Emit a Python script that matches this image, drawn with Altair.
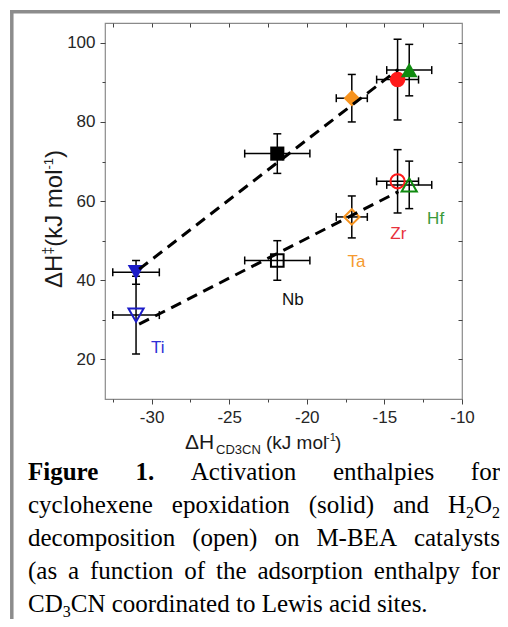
import altair as alt
import pandas as pd

# ---------------- data ----------------
metals = ["Ti", "Nb", "Ta", "Zr", "Hf"]
metal_colors = ["#1c1cc8", "#000000", "#f7931e", "#ff1a1a", "#0f8a0f"]
label_colors = ["#2f2fd6", "#111111", "#f59a30", "#e8323c", "#3a9a3a"]
shapes = ["triangle-down", "square", "diamond", "circle", "triangle-up"]
solid_sizes = [280, 200, 270, 240, 280]
open_sizes = [230, 160, 240, 200, 230]

dh_cd3cn = [-31.0, -21.9, -17.1, -14.15, -13.4]
dh_cd3cn_err = [1.5, 2.1, 1.0, 1.35, 1.45]
dh_epox = [42.0, 72.0, 86.0, 90.7, 93.1]          # solid: cyclohexene epoxidation
dh_epox_err = [3.0, 5.0, 6.0, 10.2, 6.5]
dh_h2o2 = [31.2, 45.0, 56.0, 65.0, 64.1]          # open: H2O2 decomposition
dh_h2o2_err = [9.8, 5.0, 5.3, 8.0, 6.0]

label_x = [-29.6, -20.9, -16.8, -14.1, -11.7]
label_y = [22.8, 35.0, 44.7, 51.6, 55.4]

fit_epox_x = [-30.8, -14.1]
fit_epox_y = [42.8, 93.3]
fit_h2o2_x = [-30.8, -14.1]
fit_h2o2_y = [28.9, 62.4]

x_major = [-30, -25, -20, -15, -10]
x_minor = [-32.5, -27.5, -22.5, -17.5, -12.5]
x_top = [-32.5, -30, -27.5, -25, -22.5, -20, -17.5, -15, -12.5]
y_major = [20, 40, 60, 80, 100]
y_minor = [30, 50, 70, 90]
y_right = [20, 30, 40, 50, 60, 70, 80, 90, 100]

caption_lines = [
    "**Figure** **1.** Activation enthalpies for",
    "cyclohexene epoxidation (solid) and H_2O_2",
    "decomposition (open) on M-BEA catalysts",
    "(as a function of the adsorption enthalpy for",
    "CD_3CN coordinated to Lewis acid sites.",
]

# ---------------- layout ----------------
W, H = 357, 376
X0, Y0 = 105, 23          # page position of plot area
SVG_W, SVG_H = 492, 611
PAD = {"left": X0 - 8, "top": Y0 - 8, "right": SVG_W - (X0 - 8) - W,
       "bottom": SVG_H - (Y0 - 8) - H}

xs = alt.Scale(domain=[-33, -10], nice=False, zero=False)
ys = alt.Scale(domain=[10, 105], nice=False, zero=False)


def X(f):
    return alt.X(f, type="quantitative", scale=xs, axis=None)


def Y(f):
    return alt.Y(f, type="quantitative", scale=ys, axis=None)


rows = []
for i, m in enumerate(metals):
    for series, yv, ye, sz in (("solid", dh_epox, dh_epox_err, solid_sizes),
                               ("open", dh_h2o2, dh_h2o2_err, open_sizes)):
        rows.append(dict(metal=m, series=series, x=dh_cd3cn[i],
                         xlo=dh_cd3cn[i] - dh_cd3cn_err[i],
                         xhi=dh_cd3cn[i] + dh_cd3cn_err[i],
                         y=yv[i], ylo=yv[i] - ye[i], yhi=yv[i] + ye[i],
                         shape=shapes[i], color=metal_colors[i], msize=sz[i]))
pts = pd.DataFrame(rows)

hbar = alt.Chart(pts).mark_rule(color="black", strokeWidth=1.5).encode(
    x=X("xlo"), x2="xhi", y=Y("y"))
vbar = alt.Chart(pts).mark_rule(color="black", strokeWidth=1.5).encode(
    x=X("x"), y=Y("ylo"), y2="yhi")
hcap = alt.Chart(pts).transform_fold(["xlo", "xhi"], as_=["k", "xc"]).mark_tick(
    orient="vertical", size=8, thickness=1.5, color="black", opacity=1).encode(
    x=X("xc"), y=Y("y"))
vcap = alt.Chart(pts).transform_fold(["ylo", "yhi"], as_=["k", "yc"]).mark_tick(
    orient="horizontal", size=8, thickness=1.5, color="black", opacity=1).encode(
    x=X("x"), y=Y("yc"))

solid = alt.Chart(pts[pts.series == "solid"]).mark_point(
    filled=True, opacity=1, strokeWidth=0).encode(
    x=X("x"), y=Y("y"),
    shape=alt.Shape("shape:N", scale=None),
    color=alt.Color("color:N", scale=None),
    size=alt.Size("msize:Q", scale=None))
opn = alt.Chart(pts[pts.series == "open"]).mark_point(
    filled=False, opacity=1, strokeWidth=2).encode(
    x=X("x"), y=Y("y"),
    shape=alt.Shape("shape:N", scale=None),
    color=alt.Color("color:N", scale=None),
    size=alt.Size("msize:Q", scale=None))

fit = pd.DataFrame({
    "series": ["solid"] * 2 + ["open"] * 2,
    "x": fit_epox_x + fit_h2o2_x,
    "y": fit_epox_y + fit_h2o2_y,
})
fitlines = alt.Chart(fit).mark_line(
    strokeDash=[11, 7], strokeWidth=3, color="black").encode(
    x=X("x"), y=Y("y"), detail="series:N")

labels = alt.Chart(pd.DataFrame({"t": metals, "x": label_x, "y": label_y,
                                 "c": label_colors})).mark_text(
    font="Liberation Sans", fontSize=17, align="center", baseline="middle").encode(
    x=X("x"), y=Y("y"), text="t:N", color=alt.Color("c:N", scale=None))

# ---------------- axes (ticks only; frame by view stroke) ----------------
adf = pd.DataFrame({"x": [-20.0], "y": [50.0]})
lab_expr = "datum.value < 0 ? '-' + (-datum.value) : '' + datum.value"
common = dict(domain=False, grid=False, title=None, tickColor="#444",
              tickWidth=1)
ax_main = alt.Chart(adf).mark_point(opacity=0).encode(
    x=alt.X("x:Q", scale=xs, axis=alt.Axis(
        orient="bottom", values=x_major, tickSize=5, labelPadding=5,
        labelFlush=False, labelExpr=lab_expr, labelFont="Liberation Sans",
        labelFontSize=17, labelColor="#262626", **common)),
    y=alt.Y("y:Q", scale=ys, axis=alt.Axis(
        orient="left", values=y_major, tickSize=5, labelPadding=5,
        labelFont="Liberation Sans", labelFontSize=17, labelColor="#262626",
        **common)))
ax_minor = alt.Chart(adf).mark_point(opacity=0).encode(
    x=alt.X("x:Q", scale=xs, axis=alt.Axis(
        orient="bottom", values=x_minor, tickSize=3, labels=False, **common)),
    y=alt.Y("y:Q", scale=ys, axis=alt.Axis(
        orient="left", values=y_minor, tickSize=3, labels=False, **common)))
ax_in = alt.Chart(adf).mark_point(opacity=0).encode(
    x=alt.X("x:Q", scale=xs, axis=alt.Axis(
        orient="bottom", offset=-H, values=x_top, tickSize=4, labels=False,
        **common)),
    y=alt.Y("y:Q", scale=ys, axis=alt.Axis(
        orient="left", offset=-W, values=y_right, tickSize=4, labels=False,
        **common)))

# ---------------- axis titles (text pieces, page coordinates) ----------------
xt = [  # text, page x, page baseline y, size
    ("ΔH", 185, 449, 21),
    ("CD3CN", 216, 454, 13),
    ("(kJ mol", 266, 449, 19),
    ("-1", 326, 441, 11),
    (")", 335, 449, 19),
]
yt = [  # text, page baseline x, page start y, size
    ("ΔH", 62, 288, 24),
    ("‡", 53, 254.6, 14),
    ("(kJ mol", 62, 246.8, 24),
    ("-1", 53, 169.5, 13),
    (")", 62, 157.9, 24),
]
xtitle = alt.Chart(pd.DataFrame(
    [dict(t=t, px=x - X0, py=y - Y0, s=s) for t, x, y, s in xt])).mark_text(
    font="Liberation Sans", align="left", baseline="alphabetic",
    color="#1a1a1a").encode(
    x=alt.X("px:Q", scale=None, axis=None), y=alt.Y("py:Q", scale=None, axis=None),
    text="t:N", size=alt.Size("s:Q", scale=None))
ytitle = alt.Chart(pd.DataFrame(
    [dict(t=t, px=x - X0, py=y - Y0, s=s) for t, x, y, s in yt])).mark_text(
    font="Liberation Sans", align="left", baseline="alphabetic", angle=270,
    color="#1a1a1a").encode(
    x=alt.X("px:Q", scale=None, axis=None), y=alt.Y("py:Q", scale=None, axis=None),
    text="t:N", size=alt.Size("s:Q", scale=None))

# ---------------- caption (justified, Times metrics) ----------------
TNR = {" ": 250, "(": 333, ")": 333, ".": 250, "-": 333}
TNR.update(dict(zip("abcdefghijklmnopqrstuvwxyz",
                    [444, 500, 444, 500, 444, 333, 500, 500, 278, 278, 500, 278,
                     778, 500, 500, 500, 500, 333, 389, 278, 500, 500, 722, 500,
                     500, 444])))
TNR.update({"A": 722, "B": 667, "C": 667, "D": 722, "E": 611, "F": 556,
            "H": 722, "L": 611, "M": 889, "N": 722, "O": 722})
for d in "0123456789":
    TNR[d] = 500
TNRB = {"F": 611, "i": 278, "g": 500, "u": 556, "r": 444, "e": 444,
        "1": 500, ".": 250}
CAP_F, SUB_F, SUB_DY = 25, 16, 5
CAP_L, CAP_R = 28, 500
cap_base = [479.5, 512.5, 545.5, 578.5, 611.5]


def parse_word(w):
    if w.startswith("**"):
        return [(w.strip("*"), "b")]
    segs, buf, i = [], "", 0
    while i < len(w):
        if w[i] == "_":
            if buf:
                segs.append((buf, "n"))
                buf = ""
            segs.append((w[i + 1], "sub"))
            i += 2
        else:
            buf += w[i]
            i += 1
    if buf:
        segs.append((buf, "n"))
    return segs


def seg_w(seg):
    t, st = seg
    tbl = TNRB if st == "b" else TNR
    size = SUB_F if st == "sub" else CAP_F
    return sum(tbl.get(c, 500) for c in t) / 1000 * size


cap_rows = []
for i, line in enumerate(caption_lines):
    words = [parse_word(w) for w in line.split(" ")]
    widths = [sum(seg_w(s) for s in wd) for wd in words]
    if i < len(caption_lines) - 1:
        gap = (CAP_R - CAP_L - sum(widths)) / (len(words) - 1)
    else:
        gap = 0.25 * CAP_F
    x = CAP_L
    for wd, ww in zip(words, widths):
        sx = x
        for seg in wd:
            t, st = seg
            cap_rows.append(dict(t=t, px=sx - X0,
                                 py=cap_base[i] + (SUB_DY if st == "sub" else 0) - Y0,
                                 s=SUB_F if st == "sub" else CAP_F, b=(st == "b")))
            sx += seg_w(seg)
        x += ww + gap
cap = pd.DataFrame(cap_rows)


def cap_layer(df, weight):
    return alt.Chart(df).mark_text(
        font="Liberation Serif", align="left", baseline="alphabetic",
        color="#000000", fontWeight=weight).encode(
        x=alt.X("px:Q", scale=None, axis=None),
        y=alt.Y("py:Q", scale=None, axis=None),
        text="t:N", size=alt.Size("s:Q", scale=None))


cap_reg = cap_layer(cap[~cap.b], "normal")
cap_bold = cap_layer(cap[cap.b], "bold")

# ---------------- outer gray border ----------------
border_l = alt.Chart(adf).mark_rule(color="#8c8c8c", strokeWidth=3.5).encode(
    x=alt.value(11.8 - X0), y=alt.value(10 - Y0), y2=alt.value(SVG_H + 8 - Y0))
border_t = alt.Chart(adf).mark_rule(color="#8c8c8c", strokeWidth=3.5).encode(
    x=alt.value(10 - X0), x2=alt.value(SVG_W + 8 - X0), y=alt.value(11.8 - Y0))

chart = alt.layer(
    border_l, border_t,
    ax_main, ax_minor, ax_in,
    hbar, vbar, hcap, vcap, solid, opn, fitlines, labels,
    xtitle, ytitle, cap_reg, cap_bold,
).resolve_axis(x="independent", y="independent").properties(
    width=W, height=H,
    autosize=alt.AutoSizeParams(type="none"),
    padding=PAD,
    background="white",
).configure_view(stroke="#8a8a8a", strokeWidth=1.2)

chart.save("out.html", embed_options={"renderer": "svg", "actions": False})
